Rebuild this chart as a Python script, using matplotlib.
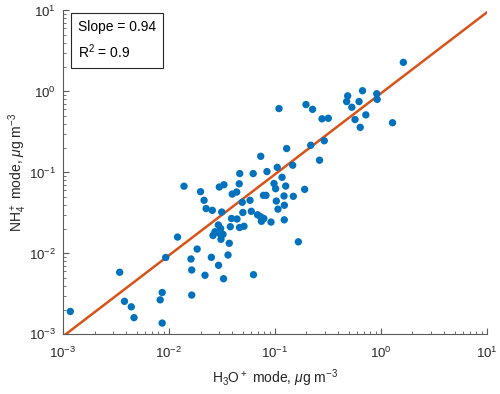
import numpy as np
import matplotlib
matplotlib.use("Agg")
import matplotlib.pyplot as plt
from matplotlib.ticker import LogLocator, NullFormatter

# ========== DATA ==========
h3o = [0.00118, 0.00345, 0.00383, 0.00444, 0.00471, 0.00938, 0.00869, 0.00832,
       0.00869, 0.01214, 0.01858, 0.01625, 0.01651, 0.01651, 0.02203, 0.02528,
       0.02958, 0.03297, 0.03634, 0.03735, 0.0632, 0.1675,
       0.02944, 0.03098, 0.02735, 0.02622, 0.03008, 0.03258, 0.03119, 0.03819,
       0.03919, 0.04416, 0.04667, 0.05143, 0.0317, 0.02583, 0.02259, 0.02158,
       0.02, 0.01396, 0.03008, 0.03327, 0.04636, 0.03981, 0.04386, 0.04954,
       0.05861, 0.05012, 0.06026, 0.04688, 0.06281, 0.08474, 0.1059, 0.074,
       0.13, 0.1482, 0.1175, 0.0987, 0.1023, 0.1273, 0.1922, 0.0785, 0.0829,
       0.1227, 0.1502, 0.1038, 0.1236, 0.1076, 0.069, 0.0736, 0.0791, 0.0751,
       0.0925, 0.1234, 0.2193, 0.2655, 0.2943, 0.1101, 0.1978, 0.2281, 0.2801,
       0.3213, 0.4897, 0.4786, 0.6761, 0.6266, 0.5358, 0.9205, 0.9293, 0.7261,
       0.574, 0.643, 1.297, 1.641]
nh4 = [0.00192, 0.00585, 0.00256, 0.00219, 0.00161, 0.0089, 0.00329, 0.00267,
       0.00138, 0.01592, 0.01132, 0.00853, 0.00624, 0.00306, 0.00537, 0.00895,
       0.00713, 0.00487, 0.00955, 0.01334, 0.00546, 0.0139,
       0.02245, 0.02029, 0.01853, 0.01664, 0.01771, 0.01722, 0.01494, 0.02138,
       0.027, 0.0266, 0.02088, 0.02163, 0.03244, 0.03404, 0.0358, 0.04527,
       0.05785, 0.06761, 0.06607, 0.07047, 0.07245, 0.05408, 0.05727, 0.04278,
       0.04527, 0.03199, 0.03311, 0.09683, 0.09683, 0.1025, 0.1156, 0.1581,
       0.1972, 0.1227, 0.0871, 0.073, 0.063, 0.0679, 0.0618, 0.0521, 0.0521,
       0.0512, 0.0507, 0.0443, 0.0393, 0.0352, 0.03, 0.0284, 0.027, 0.0249,
       0.0244, 0.026, 0.2166, 0.1416, 0.2461, 0.6152, 0.6892, 0.6013, 0.4592,
       0.4665, 0.8831, 0.7505, 1.021, 0.7505, 0.6383, 0.9375, 0.7983, 0.514,
       0.45, 0.3605, 0.411, 2.286]

slope = 0.94
r2 = 0.9
fit_x = [1e-3, 1e1]

# ========== STYLE ==========
plt.rcParams['font.family'] = ['Liberation Sans', 'DejaVu Sans']
plt.rcParams['mathtext.fontset'] = 'custom'
plt.rcParams['mathtext.rm'] = 'Liberation Sans'
plt.rcParams['mathtext.it'] = 'Liberation Sans:italic'
plt.rcParams['mathtext.default'] = 'regular'

text_color = '#262626'
spine_color = '#5a5a5a'

fig = plt.figure(figsize=(5.0, 3.94), dpi=100)
ax = fig.add_axes([0.1254, 0.1513, 0.8476, 0.8221])

ax.scatter(h3o, nh4, s=28, color='#0072BD', edgecolors='none', zorder=3)
ax.plot(fit_x, [slope * v for v in fit_x], color='#D95319', lw=1.8, zorder=2)

ax.set_xscale('log')
ax.set_yscale('log')
ax.set_xlim(1e-3, 1e1)
ax.set_ylim(1e-3, 1e1)

for side in ['top', 'right']:
    ax.spines[side].set_visible(False)
for side in ['left', 'bottom']:
    ax.spines[side].set_color(spine_color)
    ax.spines[side].set_linewidth(0.8)

ax.xaxis.set_major_locator(LogLocator(base=10, numticks=10))
ax.yaxis.set_major_locator(LogLocator(base=10, numticks=10))
ax.xaxis.set_minor_locator(LogLocator(base=10, subs=np.arange(2, 10), numticks=20))
ax.yaxis.set_minor_locator(LogLocator(base=10, subs=np.arange(2, 10), numticks=20))
ax.xaxis.set_minor_formatter(NullFormatter())
ax.yaxis.set_minor_formatter(NullFormatter())
ax.tick_params(which='both', direction='in', color=spine_color,
               labelcolor=text_color, labelsize=9.5)
ax.tick_params(which='major', length=4, width=0.8)
ax.tick_params(which='minor', length=2, width=0.6)
ax.tick_params(axis='x', which='major', pad=8)
ax.tick_params(axis='y', which='major', pad=5)

ax.set_xlabel(r'H$_3$O$^+$ mode, $\mathit{\mu}$g m$^{-3}$', fontsize=10,
              color=text_color, labelpad=5)
ax.set_ylabel(r'NH$_4^+$ mode, $\mathit{\mu}$g m$^{-3}$', fontsize=10,
              color=text_color)
ax.yaxis.set_label_coords(-0.08, 0.5)

ax.text(0.035, 0.972, f'Slope = {slope}\nR$^2$ = {r2}', transform=ax.transAxes,
        va='top', ha='left', fontsize=10, linespacing=1.55,
        bbox=dict(boxstyle='square,pad=0.5', fc='white', ec=text_color, lw=0.8))

fig.savefig('out.png', dpi=100)
